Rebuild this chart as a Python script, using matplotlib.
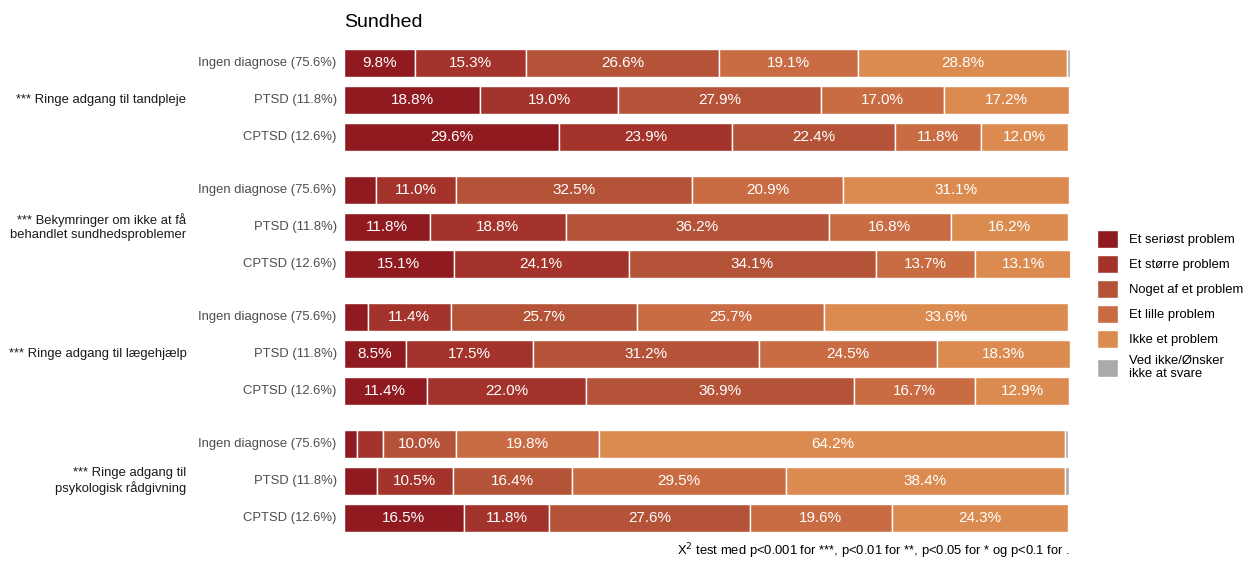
import matplotlib.pyplot as plt
from matplotlib.patches import Patch
import numpy as np

plt.rcParams["font.family"] = ["Liberation Sans", "DejaVu Sans"]

categories = ["Et seriøst problem", "Et større problem", "Noget af et problem",
              "Et lille problem", "Ikke et problem", "Ved ikke/Ønsker\nikke at svare"]
colors = ["#8F1A1F", "#A3332B", "#B55339", "#C96C44", "#DB8B4F", "#AAAAAA"]

groups = ["*** Ringe adgang til tandpleje",
          "*** Bekymringer om ikke at få\nbehandlet sundhedsproblemer",
          "*** Ringe adgang til lægehjælp",
          "*** Ringe adgang til\npsykologisk rådgivning"]
subgroups = ["Ingen diagnose (75.6%)", "PTSD (11.8%)", "CPTSD (12.6%)"]

# shares per group, rows: Ingen diagnose / PTSD / CPTSD
tandpleje = [[9.8, 15.3, 26.6, 19.1, 28.8, 0.4],
             [18.8, 19.0, 27.9, 17.0, 17.2, 0.0],
             [29.6, 23.9, 22.4, 11.8, 12.0, 0.0]]
bekymringer = [[4.4, 11.0, 32.5, 20.9, 31.1, 0.0],
               [11.8, 18.8, 36.2, 16.8, 16.2, 0.0],
               [15.1, 24.1, 34.1, 13.7, 13.1, 0.0]]
laegehjaelp = [[3.3, 11.4, 25.7, 25.7, 33.6, 0.0],
               [8.5, 17.5, 31.2, 24.5, 18.3, 0.0],
               [11.4, 22.0, 36.9, 16.7, 12.9, 0.0]]
psykolog = [[1.8, 3.6, 10.0, 19.8, 64.2, 0.3],
            [4.5, 10.5, 16.4, 29.5, 38.4, 0.6],
            [16.5, 11.8, 27.6, 19.6, 24.3, 0.0]]
data = [tandpleje, bekymringer, laegehjaelp, psykolog]

fig = plt.figure(figsize=(12.45, 5.7), dpi=100)
ax = fig.add_axes([0.2763, 0.058, 0.583, 0.864])

row_step = 1.0
group_gap = 0.42
bar_h = 0.76
y = 0.0
group_centers = []
for g, rows in enumerate(data):
    ys = []
    for r, vals in enumerate(rows):
        left = 0.0
        for c, v in enumerate(vals):
            if v <= 0:
                continue
            ax.barh(y, v, left=left, height=bar_h, color=colors[c],
                    edgecolor="white", linewidth=1.0)
            if v >= 8 and c < 5:
                ax.text(left + v / 2, y, f"{v:.1f}%", ha="center", va="center",
                        color="white", fontsize=11)
            left += v
        ax.text(-1.0, y, subgroups[r], ha="right", va="center",
                color="#4D4D4D", fontsize=9.4)
        ys.append(y)
        y += row_step
    group_centers.append(np.mean(ys))
    y += group_gap

for gc, label in zip(group_centers, groups):
    ax.text(-21.7, gc, label, ha="right", va="center", multialignment="right",
            color="#1A1A1A", fontsize=9.4)

ax.set_xlim(0, 100)
ax.set_ylim(y - group_gap - row_step + 0.5, -0.5)
ax.axis("off")

fig.text(0.2763, 0.96, "Sundhed", fontsize=14, ha="left", va="center")
fig.text(0.8594, 0.015, r"X$^2$ test med p<0.001 for ***, p<0.01 for **, p<0.05 for * og p<0.1 for .",
         fontsize=9.4, ha="right", va="bottom")

handles = [Patch(facecolor=c, edgecolor="white") for c in colors]
fig.legend(handles, categories, loc="center left", bbox_to_anchor=(0.8815, 0.465),
           frameon=False, fontsize=9.4, handlelength=1.6, handleheight=1.8,
           handletextpad=0.8, labelspacing=0.5, borderpad=0, borderaxespad=0)

fig.savefig("out.png", dpi=100)
